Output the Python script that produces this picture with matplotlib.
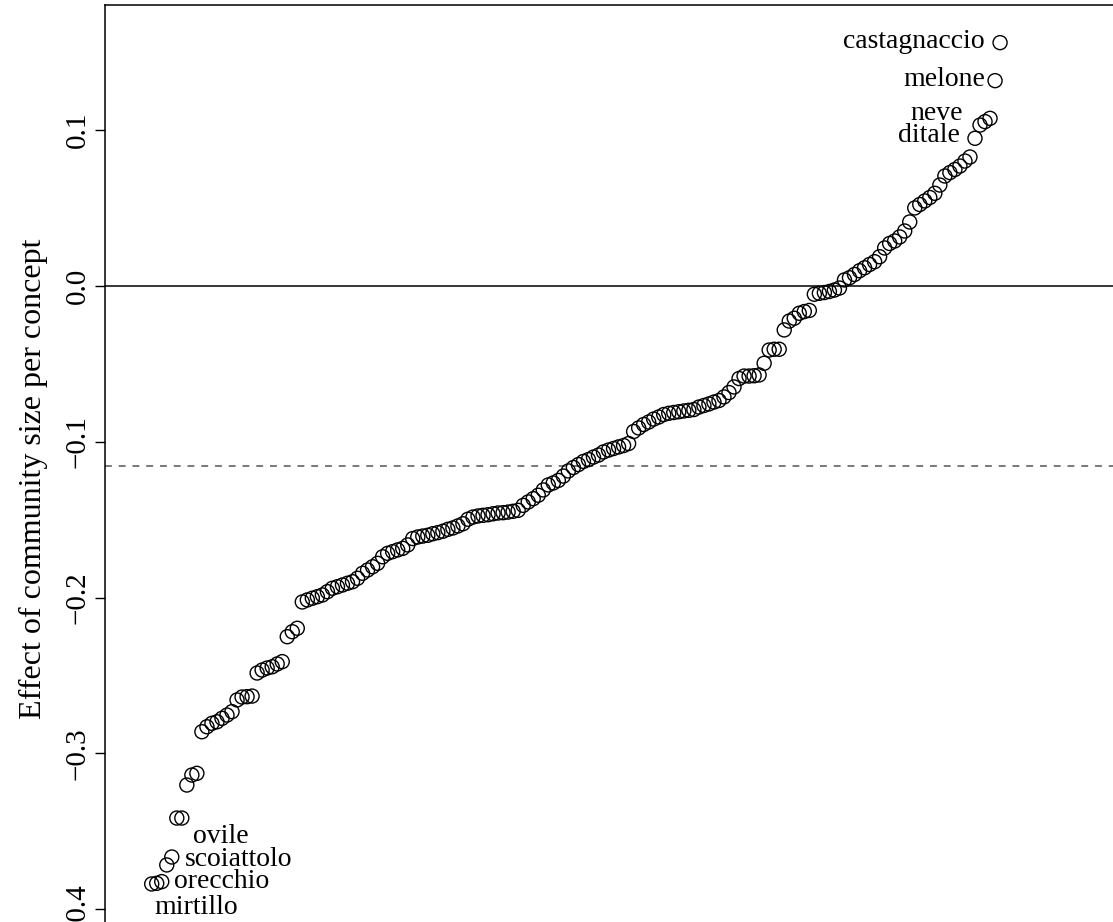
import matplotlib
matplotlib.use("Agg")
import matplotlib.pyplot as plt
import numpy as np

plt.rcParams['font.family'] = ['Liberation Serif', 'DejaVu Serif']

# Estimated effect of community size for each concept, sorted ascending
effect = [
    -0.3838, -0.3834, -0.3823, -0.3716, -0.3665, -0.3415, -0.3415, -0.3203, -0.3139, -0.3128,
    -0.2861, -0.2829, -0.2807, -0.2797, -0.2775, -0.2754, -0.2732, -0.2657, -0.2638, -0.2636,
    -0.2632, -0.2484, -0.2465, -0.2452, -0.2444, -0.2426, -0.2411, -0.2251, -0.2219, -0.2197,
    -0.2028, -0.2015, -0.2004, -0.1994, -0.1983, -0.1962, -0.1940, -0.1930, -0.1919, -0.1908,
    -0.1898, -0.1876, -0.1844, -0.1823, -0.1802, -0.1780, -0.1738, -0.1716, -0.1705, -0.1694,
    -0.1684, -0.1662, -0.1621, -0.1611, -0.1605, -0.1600, -0.1590, -0.1583, -0.1574, -0.1562,
    -0.1553, -0.1540, -0.1526, -0.1497, -0.1483, -0.1476, -0.1472, -0.1468, -0.1462, -0.1457,
    -0.1455, -0.1451, -0.1446, -0.1440, -0.1408, -0.1386, -0.1365, -0.1343, -0.1309, -0.1277,
    -0.1264, -0.1248, -0.1220, -0.1187, -0.1165, -0.1146, -0.1126, -0.1114, -0.1098, -0.1085,
    -0.1065, -0.1053, -0.1043, -0.1033, -0.1024, -0.1011, -0.0934, -0.0911, -0.0889, -0.0873,
    -0.0854, -0.0841, -0.0825, -0.0817, -0.0812, -0.0807, -0.0802, -0.0798, -0.0793, -0.0777,
    -0.0767, -0.0757, -0.0745, -0.0735, -0.0712, -0.0684, -0.0648, -0.0594, -0.0578, -0.0578,
    -0.0576, -0.0571, -0.0496, -0.0411, -0.0406, -0.0406, -0.0282, -0.0225, -0.0207, -0.0175,
    -0.0164, -0.0157, -0.0053, -0.0047, -0.0042, -0.0035, -0.0026, -0.0013, 0.0039, 0.0053,
    0.0074, 0.0098, 0.0117, 0.0138, 0.0156, 0.0188, 0.0244, 0.0273, 0.0289, 0.0315,
    0.0353, 0.0411, 0.0501, 0.0523, 0.0546, 0.0568, 0.0595, 0.0648, 0.0706, 0.0728,
    0.0748, 0.0770, 0.0802, 0.0828, 0.0948, 0.1033, 0.1055, 0.1076, 0.1318, 0.1562,
]

# Mean effect across concepts (dashed reference line)
mean_effect = -0.1155

# Labelled concepts at both extremes: name, position in sorted order, text offset (px)
low_names = ['mirtillo', 'orecchio', 'scoiattolo', 'ovile']
low_index = [0, 1, 2, 3]
low_offsets = [(3, -30), (17, -5), (23, 16), (26, 22)]

high_names = ['castagnaccio', 'melone', 'neve', 'ditale']
high_index = [169, 168, 167, 166]
high_offsets = [(-15, -5), (-10, -5), (-27, -2), (-25, -20)]

ytick_values = [-0.4, -0.3, -0.2, -0.1, 0.0, 0.1]
ytick_labels = ['\u22120.4', '\u22120.3', '\u22120.2', '\u22120.1', '0.0', '0.1']
ylabel_text = 'Effect of community size per concept'

W, H = 1113, 922
fig = plt.figure(figsize=(W / 100, H / 100), dpi=100)

# Plot region (in pixels): left edge at 105, top at 5; extends past the lower and right borders
left_px, right_px, top_px, bottom_px = 105, 1140, 5, 940
ax = fig.add_axes([left_px / W, (H - bottom_px) / H,
                   (right_px - left_px) / W, (bottom_px - top_px) / H])

idx = np.arange(len(effect))
x0_px, step_px = 151.7, 5.02
ax.set_xlim((left_px - x0_px) / step_px, (right_px - x0_px) / step_px)
px_per_unit = 1558.0
zero_px = 286.0
ax.set_ylim((zero_px - bottom_px) / px_per_unit, (zero_px - top_px) / px_per_unit)

ax.axhline(0.0, color='black', lw=1.1, zorder=1)
ax.axhline(mean_effect, color='#555555', lw=1.1, linestyle=(0, (4.5, 4.5)), zorder=1)

ax.scatter(idx, effect, s=102, facecolors='none', edgecolors='black',
           linewidths=1.0, zorder=3)

fs_text = 20
for name, i, (dx, dy) in zip(low_names, low_index, low_offsets):
    ax.annotate(name, (idx[i], effect[i]), xytext=(dx, dy), textcoords='offset pixels',
                ha='left', va='baseline', fontsize=fs_text)
for name, i, (dx, dy) in zip(high_names, high_index, high_offsets):
    ax.annotate(name, (idx[i], effect[i]), xytext=(dx, dy), textcoords='offset pixels',
                ha='right', va='baseline', fontsize=fs_text)

ax.set_yticks(ytick_values)
ax.set_yticklabels(ytick_labels, rotation=90, va='center', fontsize=21)
ax.tick_params(axis='y', length=7.2, width=1.0, pad=3, direction='out')
ax.set_xticks([])
for side in ['left', 'top', 'right', 'bottom']:
    ax.spines[side].set_linewidth(1.1)

fig.text(33 / W, (H - 479) / H, ylabel_text, rotation=90, ha='center', va='center',
         fontsize=23)

fig.savefig('out.png', dpi=100, facecolor='white')
